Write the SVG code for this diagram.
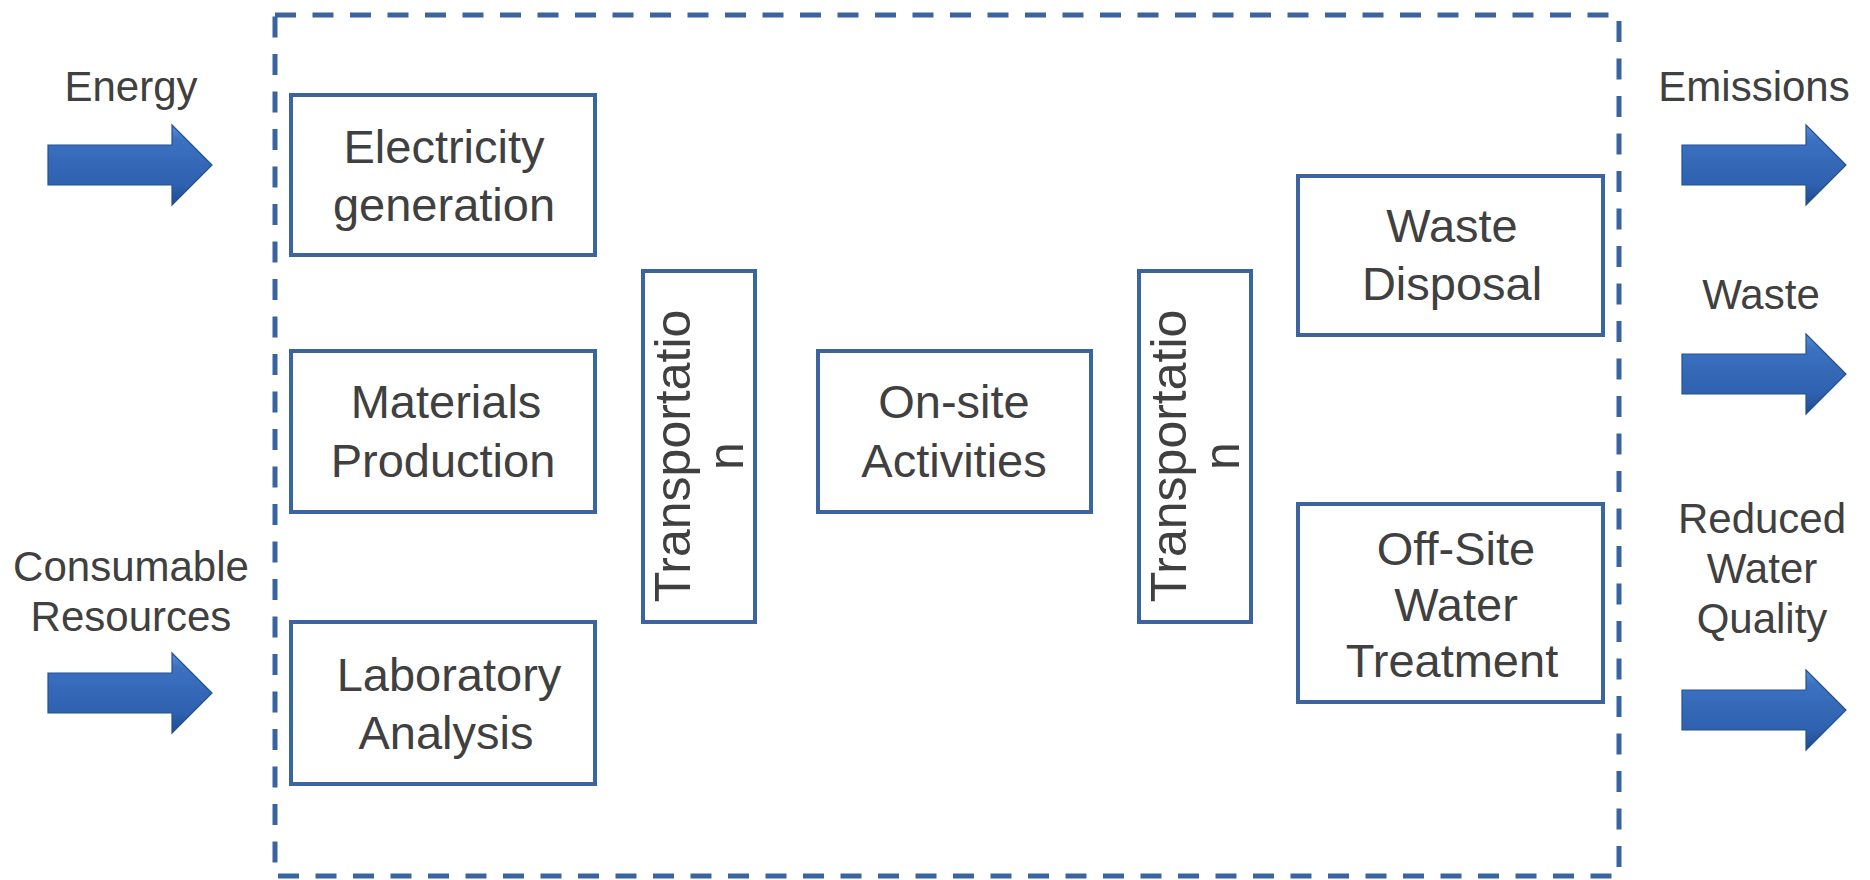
<svg xmlns="http://www.w3.org/2000/svg" xmlns:xlink="http://www.w3.org/1999/xlink" width="1870" height="880" viewBox="0 0 1870 880">
  <style>
    .box { fill: #ffffff; stroke: #3B64A0; stroke-width: 4; }
    .bt { font-family: "Liberation Sans", Arial, sans-serif; font-size: 47px; fill: #404040; text-anchor: middle; }
    .tt { font-family: "Liberation Sans", Arial, sans-serif; font-size: 50px; fill: #404040; text-anchor: middle; }
    .lbl { font-family: "Liberation Sans", Arial, sans-serif; font-size: 42px; fill: #404040; text-anchor: middle; }
    .boundary { fill: none; stroke: #3A64A0; stroke-width: 5; stroke-dasharray: 21 16.5; }
  </style>
  <defs>
    <linearGradient id="arrowGrad" x1="0" y1="0" x2="0" y2="1">
      <stop offset="0" stop-color="#5A8DD6"/>
      <stop offset="0.18" stop-color="#3C71C1"/>
      <stop offset="0.75" stop-color="#2E61AF"/>
      <stop offset="1" stop-color="#1E4B8E"/>
    </linearGradient>
    <path id="fatArrow" d="M0,-20 L124,-20 L124,-40 L164,0 L124,40 L124,20 L0,20 Z" fill="url(#arrowGrad)" stroke="#24518F" stroke-width="1.2" stroke-linejoin="miter"/>
  </defs>

  <g id="boundary">
    <rect class="boundary" x="275" y="15" width="1344" height="861"/>
  </g>

  <g id="connectors">
    <use xlink:href="#fatArrow" href="#fatArrow" transform="translate(48,165)"/>
    <use xlink:href="#fatArrow" href="#fatArrow" transform="translate(48,693)"/>
    <use xlink:href="#fatArrow" href="#fatArrow" transform="translate(1682,165)"/>
    <use xlink:href="#fatArrow" href="#fatArrow" transform="translate(1682,374)"/>
    <use xlink:href="#fatArrow" href="#fatArrow" transform="translate(1682,710)"/>
  </g>

  <g id="label-energy">
    <text class="lbl" x="131" y="101">Energy</text>
  </g>
  <g id="label-consumable">
    <text class="lbl" x="131" y="581">Consumable</text>
    <text class="lbl" x="131" y="631">Resources</text>
  </g>
  <g id="label-emissions">
    <text class="lbl" x="1754" y="101">Emissions</text>
  </g>
  <g id="label-waste">
    <text class="lbl" x="1761" y="309">Waste</text>
  </g>
  <g id="label-water-quality">
    <text class="lbl" x="1762" y="533">Reduced</text>
    <text class="lbl" x="1762" y="583">Water</text>
    <text class="lbl" x="1762" y="633">Quality</text>
  </g>

  <g id="node-electricity">
    <rect class="box" x="291" y="95" width="304" height="160"/>
    <text class="bt" x="444" y="163">Electricity</text>
    <text class="bt" x="444" y="221">generation</text>
  </g>
  <g id="node-materials">
    <rect class="box" x="291" y="351" width="304" height="161"/>
    <text class="bt" x="446" y="418">Materials</text>
    <text class="bt" x="443" y="477">Production</text>
  </g>
  <g id="node-laboratory">
    <rect class="box" x="291" y="622" width="304" height="162"/>
    <text class="bt" x="449" y="691">Laboratory</text>
    <text class="bt" x="446" y="749">Analysis</text>
  </g>
  <g id="node-transport-1">
    <rect class="box" x="643" y="271" width="112" height="351"/>
    <text class="tt" transform="translate(690,456) rotate(-90)">Transportatio</text>
    <text class="tt" transform="translate(743,456) rotate(-90)">n</text>
  </g>
  <g id="node-onsite">
    <rect class="box" x="818" y="351" width="273" height="161"/>
    <text class="bt" x="954" y="418">On-site</text>
    <text class="bt" x="954" y="477">Activities</text>
  </g>
  <g id="node-transport-2">
    <rect class="box" x="1139" y="271" width="112" height="351"/>
    <text class="tt" transform="translate(1186,456) rotate(-90)">Transportatio</text>
    <text class="tt" transform="translate(1239,456) rotate(-90)">n</text>
  </g>
  <g id="node-waste-disposal">
    <rect class="box" x="1298" y="176" width="305" height="159"/>
    <text class="bt" x="1452" y="242">Waste</text>
    <text class="bt" x="1452" y="300">Disposal</text>
  </g>
  <g id="node-offsite-water">
    <rect class="box" x="1298" y="504" width="305" height="198"/>
    <text class="bt" x="1456" y="565">Off-Site</text>
    <text class="bt" x="1456" y="621">Water</text>
    <text class="bt" x="1452" y="677">Treatment</text>
  </g>
</svg>
